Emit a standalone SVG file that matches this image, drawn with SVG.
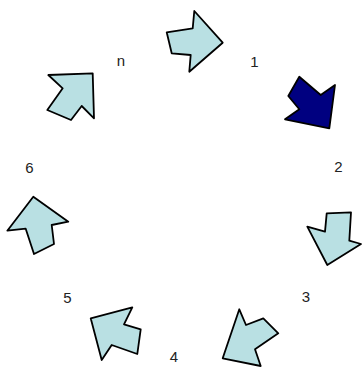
<svg xmlns="http://www.w3.org/2000/svg" width="362" height="367" viewBox="0 0 362 367">
<style>
.arr{fill:#b9e0e3;stroke:#000;stroke-width:1.8;stroke-linejoin:round}
.sel{fill:#000080}
.lbl{font-family:"Liberation Sans",Arial,sans-serif;font-size:15px;fill:#222;text-anchor:middle}
</style>
<rect width="362" height="367" fill="#fff"/>
<g id="node-1">
<polygon class="arr" points="166.7,32.3 192.7,28.3 194.3,11 222.7,42.7 189.3,71.7 190.7,55 171.7,53.3"/>
<text class="lbl" x="254.3" y="66.7">1</text>
</g>
<g id="node-2">
<polygon class="arr sel" points="299.3,76.7 320.7,95 335,85 329.3,128.3 285,119.3 299.3,109.3 288.3,96"/>
<text class="lbl" x="338.3" y="171.7">2</text>
</g>
<g id="node-3">
<polygon class="arr" points="326.7,213.3 351,212.3 349.3,240.7 361,244 327.3,265 307.3,226.7 325,231.7"/>
<text class="lbl" x="305.8" y="302">3</text>
</g>
<g id="node-4">
<polygon class="arr" points="239.3,309.3 246,325 263.3,318.3 278.3,333.3 255,349.3 260.7,366 222.7,358.3"/>
<text class="lbl" x="174" y="361.7">4</text>
</g>
<g id="node-5">
<polygon class="arr" points="90.7,318.3 132.3,307.3 124,324.3 140.7,329.3 137.3,354 111.7,345 101.7,360"/>
<text class="lbl" x="67.5" y="302.7">5</text>
</g>
<g id="node-6">
<polygon class="arr" points="33.3,196.7 68.3,221.7 51.7,225 54,244 34,254 25.7,228.7 7.3,230.7"/>
<text class="lbl" x="29.5" y="172.7">6</text>
</g>
<g id="node-n">
<polygon class="arr" points="92.7,73.3 94,118.3 81.7,106 71,120 47.3,110 62.7,88.3 48.3,75"/>
<text class="lbl" x="120.8" y="66">n</text>
</g>
<g id="connectors"></g>
</svg>
